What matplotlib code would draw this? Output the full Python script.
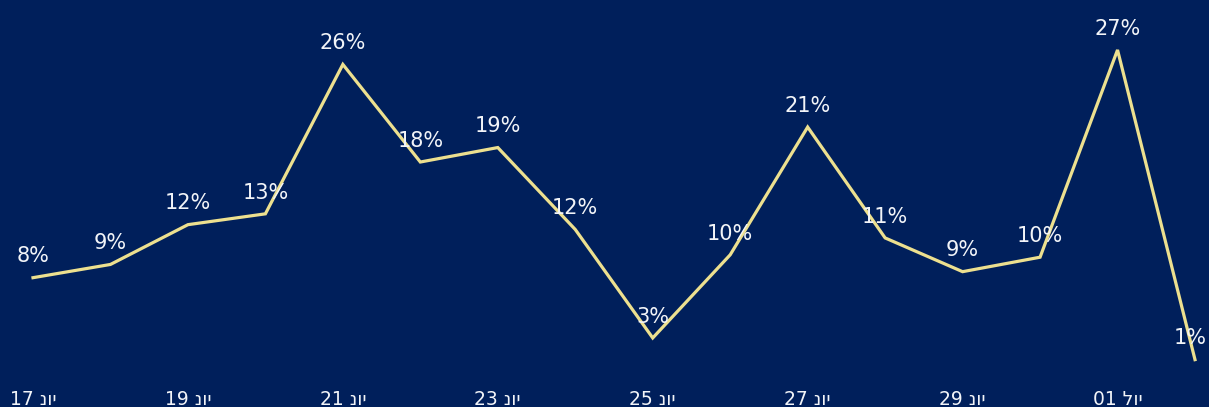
import matplotlib
matplotlib.use("Agg")
import matplotlib.pyplot as plt

# Data (daily share, %)
days = list(range(16))
values = [8.1, 9.2, 12.5, 13.4, 25.8, 17.7, 18.9, 12.1, 3.1, 10.0, 20.6, 11.4, 8.6, 9.8, 27.0, 1.3]
tick_pos = [0, 2, 4, 6, 8, 10, 12, 14]
# Hebrew labels written in visual (left-to-right) order, since matplotlib has no bidi
tick_labels = ["17 נוי", "19 נוי", "21 נוי", "23 נוי", "25 נוי", "27 נוי", "29 נוי", "01 לוי"]

BG = "#001F5B"
LINE = "#EDE08F"
TXT = "#F2F4F8"

plt.rcParams['font.family'] = ['DejaVu Sans']

W, H = 1209, 407
fig = plt.figure(figsize=(W / 100, H / 100), dpi=100, facecolor=BG)
ax = fig.add_axes([0, 22 / H, 1, 1 - 22 / H])
ax.set_facecolor(BG)

ax.plot(days, values, color=LINE, lw=2.3, solid_joinstyle='miter', zorder=3)

n = len(values)
for i, (x, v) in enumerate(zip(days, values)):
    dx = -3.5 if i == n - 1 else 0
    ax.annotate(f"{round(v)}%", (x, v), xytext=(dx, 11), textcoords='offset points',
                ha='center', va='baseline', color=TXT, fontsize=15, zorder=4)

ax.set_xlim(-33 / 77.47, 15 + 14 / 77.47)
k = 12.05
a = 375.3
ax.set_ylim((a - 385) / k, a / k)

ax.set_xticks(tick_pos)
ax.set_xticklabels(tick_labels, color=TXT, fontsize=13.5)
ax.tick_params(axis='x', length=0, pad=3.5)
ax.set_yticks([])
for s in ax.spines.values():
    s.set_visible(False)

fig.savefig("out.png", dpi=100, facecolor=BG)
